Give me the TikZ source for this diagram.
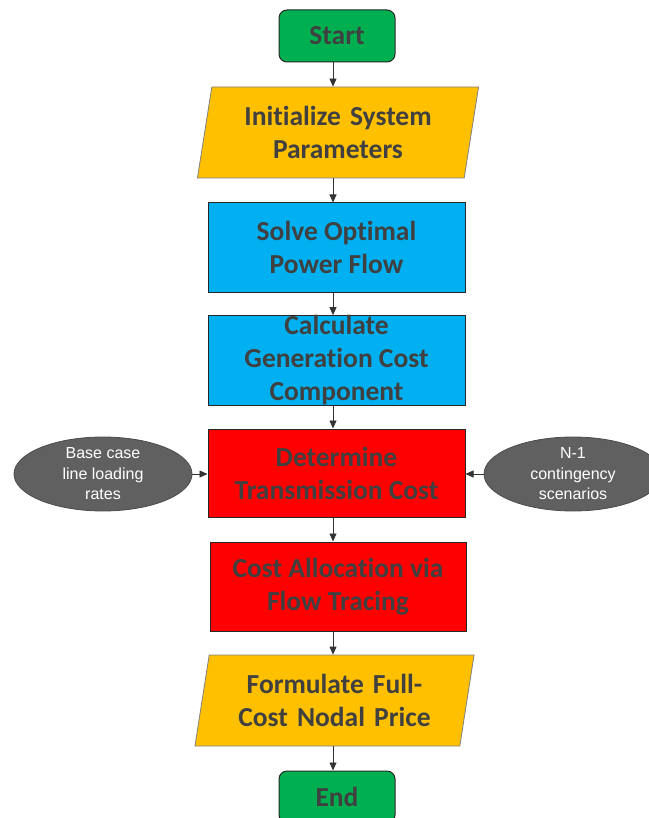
\documentclass[tikz,border=0pt]{standalone}
\usepackage{fontspec}
\setmainfont{Carlito}[Ligatures=NoCommon]
\newfontfamily\arialfont{Liberation Sans}
\usetikzlibrary{shapes.geometric,arrows.meta,calc}
\definecolor{cgreen}{HTML}{00B050}
\definecolor{cyellow}{HTML}{FFC000}
\definecolor{cblue}{HTML}{00B0F0}
\definecolor{cred}{HTML}{FF0000}
\definecolor{cgray}{HTML}{606060}
\definecolor{ctext}{HTML}{404040}
\begin{document}
\begin{tikzpicture}[x=1pt,y=1pt,
  base/.style={text=ctext,font=\fontsize{27.5}{33}\selectfont\bfseries,align=center,inner sep=0pt},
  term/.style={base,rectangle,rounded corners=8pt,draw=black!85,line width=1pt,fill=cgreen,minimum width=116pt,minimum height=52pt},
  proc/.style={base,rectangle,draw=black!85,line width=1pt,minimum width=257pt,minimum height=89pt},
  io/.style={base,trapezium,trapezium left angle=76,trapezium right angle=104,trapezium stretches=true,draw=black!50,line width=0.8pt,fill=cyellow,minimum height=91pt,minimum width=282pt,text width=230pt},
  side/.style={ellipse,draw=black!70,line width=0.8pt,fill=cgray,text=white,font=\arialfont\fontsize{16}{20.5}\selectfont,align=center,minimum width=178pt,minimum height=74pt,inner sep=0pt},
  arr/.style={draw=black!80,line width=0.8pt,-{Triangle[length=8pt,width=7pt]}}
]
\useasboundingbox (0,0) rectangle (648,-818);
\coordinate (axis) at (333,0);
\node[term] (start) at (337,-36) {Start};
\node[io] (init) at (338,-132.5) {Initialize System\\Parameters};
\node[proc,fill=cblue] (solve) at (336.5,-247.5) {Solve Optimal\\Power Flow};
\node[proc,fill=cblue] (calc) at (336.5,-360.5) {Calculate\\Generation Cost\\Component};
\node[proc,fill=cred,minimum height=88pt] (det) at (336.5,-473) {Determine\\Transmission Cost};
\node[proc,fill=cred,minimum width=256pt] (alloc) at (338,-586.5) {Cost Allocation via\\Flow Tracing};
\node[io,minimum width=280pt] (form) at (334.5,-700.5) {Formulate Full-\\Cost Nodal Price};
\node[term] (end) at (337,-797) {End};
\node[side] (base) at (103,-474) {Base case\\line loading\\rates};
\node[side] (n1) at (573,-474) {N-1\\contingency\\scenarios};
\draw[arr] (start.south -| axis) -- (init.north -| axis);
\draw[arr] (init.south -| axis) -- (solve.north -| axis);
\draw[arr] (solve.south -| axis) -- (calc.north -| axis);
\draw[arr] (calc.south -| axis) -- (det.north -| axis);
\draw[arr] (det.south -| axis) -- (alloc.north -| axis);
\draw[arr] (alloc.south -| axis) -- (form.north -| axis);
\draw[arr] (form.south -| axis) -- (end.north -| axis);
\draw[arr] (base.east) -- (det.west |- base.east);
\draw[arr] (n1.west) -- (det.east |- n1.west);
\end{tikzpicture}
\end{document}
